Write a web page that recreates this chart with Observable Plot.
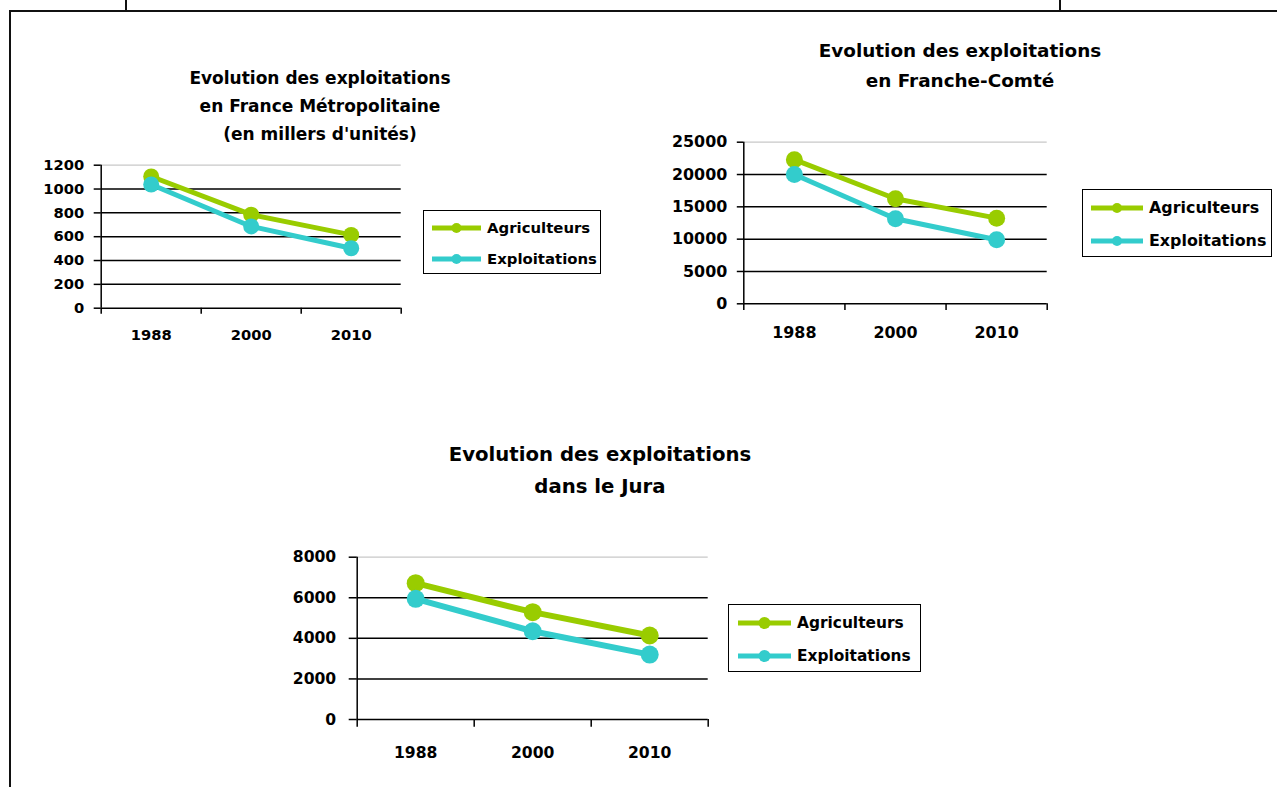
<!DOCTYPE html>
<html><head><meta charset="utf-8">
<script src="https://cdn.jsdelivr.net/npm/d3@7"></script>
<script src="https://cdn.jsdelivr.net/npm/@observablehq/plot@0.6"></script>
<style>
html,body{margin:0;padding:0;background:#fff;}
body{width:1277px;height:787px;position:relative;overflow:hidden;font-family:"DejaVu Sans",sans-serif;font-weight:bold;color:#000;}
.line{position:absolute;background:#111;}
.title{position:absolute;text-align:center;white-space:nowrap;}
.legend{position:absolute;border:1.5px solid #000;background:#fff;box-sizing:border-box;}
.legend span{position:absolute;white-space:nowrap;}
.legend svg{position:absolute;left:0;top:0;overflow:visible;}
</style></head><body>
<div class="line" style="left:10px;top:10px;width:1267px;height:2px"></div>
<div class="line" style="left:9px;top:10px;width:2px;height:777px"></div>
<div class="line" style="left:125px;top:0;width:2px;height:11px"></div>
<div class="line" style="left:1059px;top:0;width:2px;height:11px"></div>
<script>
// ---- data ----
const years = ["1988", "2000", "2010"];
const seriesNames = ["Agriculteurs", "Exploitations"];
const seriesColors = ["#99CC00", "#33CCCC"];

const franceTitle = ["Evolution des exploitations", "en France Métropolitaine", "(en millers d'unités)"];
const franceAgriculteurs = [1105, 785, 615];
const franceExploitations = [1038, 686, 503];
const franceTicks = [0, 200, 400, 600, 800, 1000, 1200];

const fcTitle = ["Evolution des exploitations", "en Franche-Comté"];
const fcAgriculteurs = [22300, 16250, 13250];
const fcExploitations = [20000, 13150, 9900];
const fcTicks = [0, 5000, 10000, 15000, 20000, 25000];

const juraTitle = ["Evolution des exploitations", "dans le Jura"];
const juraAgriculteurs = [6720, 5290, 4140];
const juraExploitations = [5950, 4350, 3200];
const juraTicks = [0, 2000, 4000, 6000, 8000];

// ---- drawing ----
function makeChart(c) {
  const rows = (vals, name) => years.map((y, i) => ({pos: i + 0.5, year: y, value: vals[i], series: name}));
  const a = rows(c.agri, seriesNames[0]);
  const e = rows(c.expl, seriesNames[1]);
  const top = c.ticks[c.ticks.length - 1];
  const plot = Plot.plot({
    width: c.w, height: c.h,
    marginLeft: c.ml, marginRight: c.mr, marginTop: c.mt, marginBottom: c.mb,
    x: {domain: [0, years.length]},
    y: {domain: [0, top]},
    style: {fontFamily: "DejaVu Sans", fontWeight: "bold", fontSize: c.fs + "px", color: "#000", background: "transparent", overflow: "visible"},
    marks: [
      Plot.ruleY(c.ticks.slice(0, -1), {stroke: "#000", strokeWidth: 1.5}),
      Plot.ruleY([top], {stroke: "#c8c8c8", strokeWidth: 1.2}),
      Plot.axisY({ticks: c.ticks, tickSize: c.yts, tickPadding: c.ypad, tickFormat: d => String(d), label: null, strokeWidth: 1.5, fontSize: c.fs}),
      Plot.axisX({ticks: d3.range(years.length + 1), tickSize: c.xts, tickFormat: () => "", label: null, strokeWidth: 1.5}),
      Plot.axisX({ticks: years.map((y, i) => i + 0.5), tickSize: 0, tickPadding: c.xpad, tickFormat: d => years[Math.floor(d)], label: null, fontSize: c.fs}),
      Plot.ruleX([0], {stroke: "#000", strokeWidth: 1.5}),
      Plot.line(a, {x: "pos", y: "value", stroke: seriesColors[0], strokeWidth: c.lw}),
      Plot.dot(a, {x: "pos", y: "value", fill: seriesColors[0], r: c.r}),
      Plot.line(e, {x: "pos", y: "value", stroke: seriesColors[1], strokeWidth: c.lw}),
      Plot.dot(e, {x: "pos", y: "value", fill: seriesColors[1], r: c.r})
    ]
  });
  plot.style.position = "absolute";
  plot.style.left = c.left + "px";
  plot.style.top = c.top + "px";
  document.body.appendChild(plot);

  // title
  const t = document.createElement("div");
  t.className = "title";
  t.style.left = (c.tcx - 250) + "px";
  t.style.width = "500px";
  t.style.top = c.ttop + "px";
  t.style.fontSize = c.tfs + "px";
  t.style.lineHeight = c.tlh + "px";
  t.innerHTML = c.title.join("<br>");
  document.body.appendChild(t);

  // legend
  const L = c.leg;
  const box = document.createElement("div");
  box.className = "legend";
  Object.assign(box.style, {left: L.x + "px", top: L.y + "px", width: L.w + "px", height: L.h + "px"});
  const ns = "http://www.w3.org/2000/svg";
  const svg = document.createElementNS(ns, "svg");
  svg.setAttribute("width", L.w); svg.setAttribute("height", L.h);
  box.appendChild(svg);
  seriesNames.forEach((name, i) => {
    const cy = L.rows[i];
    const ln = document.createElementNS(ns, "line");
    ln.setAttribute("x1", L.s0); ln.setAttribute("x2", L.s1);
    ln.setAttribute("y1", cy); ln.setAttribute("y2", cy);
    ln.setAttribute("stroke", seriesColors[i]); ln.setAttribute("stroke-width", 5);
    svg.appendChild(ln);
    const dt = document.createElementNS(ns, "circle");
    dt.setAttribute("cx", (L.s0 + L.s1) / 2); dt.setAttribute("cy", cy); dt.setAttribute("r", L.mr);
    dt.setAttribute("fill", seriesColors[i]);
    svg.appendChild(dt);
    const sp = document.createElement("span");
    sp.textContent = name;
    Object.assign(sp.style, {left: L.tx + "px", top: (cy - 12) + "px", lineHeight: "24px", fontSize: L.fs + "px"});
    box.appendChild(sp);
  });
  document.body.appendChild(box);
}

makeChart({
  agri: franceAgriculteurs, expl: franceExploitations, ticks: franceTicks, title: franceTitle,
  left: 20, top: 150, w: 400, h: 200, ml: 80.7, mr: 19.3, mt: 14.7, mb: 42.3,
  fs: 14.7, yts: 7, ypad: 10, xts: 6, xpad: 21.5, lw: 5, r: 8,
  tcx: 320, ttop: 64, tfs: 17, tlh: 28,
  leg: {x: 423, y: 210, w: 178, h: 64, rows: [17, 48], s0: 8, s1: 57, mr: 5, tx: 63, fs: 14.9}
});
makeChart({
  agri: fcAgriculteurs, expl: fcExploitations, ticks: fcTicks, title: fcTitle,
  left: 640, top: 125, w: 440, h: 225, ml: 103.3, mr: 33.3, mt: 16.7, mb: 46.7,
  fs: 15.9, yts: 6.5, ypad: 10, xts: 6.7, xpad: 23, lw: 5, r: 8.5,
  tcx: 960, ttop: 36, tfs: 18.4, tlh: 29.5,
  leg: {x: 1082, y: 189, w: 190, h: 68, rows: [18, 51], s0: 8, s1: 60, mr: 5, tx: 66, fs: 15.9}
});
makeChart({
  agri: juraAgriculteurs, expl: juraExploitations, ticks: juraTicks, title: juraTitle,
  left: 260, top: 540, w: 480, h: 240, ml: 96.7, mr: 32.3, mt: 16.7, mb: 61,
  fs: 15.6, yts: 8, ypad: 13, xts: 7.7, xpad: 27.6, lw: 6, r: 9,
  tcx: 600, ttop: 439, tfs: 19.7, tlh: 32,
  leg: {x: 728, y: 604, w: 193, h: 68, rows: [18, 51], s0: 9, s1: 62, mr: 6, tx: 68, fs: 15.4}
});
</script>
</body></html>
